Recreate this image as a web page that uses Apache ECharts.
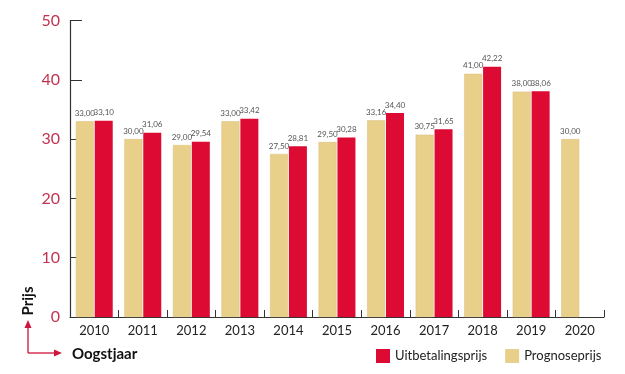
<!DOCTYPE html>
<html>
<head>
<meta charset="utf-8">
<script src="https://cdn.jsdelivr.net/npm/echarts@6/dist/echarts.min.js"></script>
<style>html,body{margin:0;padding:0;background:#fff}#c{width:625px;height:374px}</style>
</head>
<body>
<div id="c"></div>
<script>
const categories = ['2010','2011','2012','2013','2014','2015','2016','2017','2018','2019','2020'];
const prognoseprijs = [33.00, 30.00, 29.00, 33.00, 27.50, 29.50, 33.16, 30.75, 41.00, 38.00, 30.00];
const uitbetalingsprijs = [33.10, 31.06, 29.54, 33.42, 28.81, 30.28, 34.40, 31.65, 42.22, 38.06, null];
const yTicks = { min: 0, max: 50, interval: 10 };

const FONT = 'Lato, "Open Sans", sans-serif';
const fmt = p => p.value == null ? '' : p.value.toFixed(2).replace('.', ',');
const chart = echarts.init(document.getElementById('c'), null, { renderer: 'canvas' });
chart.setOption({
  animation: false,
  grid: { left: 70, right: 21, top: 20.5, bottom: 57, containLabel: false },
  legend: {
    data: ['Uitbetalingsprijs', 'Prognoseprijs'],
    left: 376, top: 349, width: 249, padding: 0, itemWidth: 14, itemHeight: 14, itemGap: 18,
    icon: 'rect',
    itemStyle: { borderWidth: 0 },
    textStyle: { fontFamily: FONT, fontSize: 13, color: '#222', padding: [0, 0, 0, 0] }
  },
  xAxis: {
    type: 'category', data: categories, boundaryGap: true,
    axisLine: { lineStyle: { color: '#333', width: 1.2 } },
    axisTick: { show: true, inside: true, length: 7, lineStyle: { color: '#333' } },
    axisLabel: { fontFamily: FONT, fontSize: 13, color: '#222', margin: 7 }
  },
  yAxis: {
    type: 'value', min: yTicks.min, max: yTicks.max, interval: yTicks.interval,
    splitLine: { show: false },
    axisLine: { show: true, lineStyle: { color: '#333', width: 1.2 } },
    axisTick: { show: true, inside: true, length: 12, lineStyle: { color: '#333' } },
    axisLabel: { fontFamily: FONT, fontSize: 16, color: '#c23350', margin: 10 }
  },
  series: [
    {
      name: 'Prognoseprijs', type: 'bar', data: prognoseprijs, barWidth: 18, barGap: '5%',
      itemStyle: { color: '#e9d08a', borderColor: '#d9bf7a', borderWidth: 0.5 },
      label: { show: true, position: 'top', distance: 4, fontFamily: FONT, fontSize: 8, color: '#555', formatter: fmt }
    },
    {
      name: 'Uitbetalingsprijs', type: 'bar', data: uitbetalingsprijs, barWidth: 18,
      itemStyle: { color: '#dd0a33' },
      label: { show: true, position: 'top', distance: 4, fontFamily: FONT, fontSize: 8, color: '#555', formatter: fmt }
    }
  ],
  graphic: [
    { type: 'text', x: 28, y: 301, rotation: Math.PI / 2, style: { text: 'Prijs', font: 'bold 15px ' + FONT, fill: '#111', align: 'center', verticalAlign: 'middle' } },
    { type: 'line', shape: { x1: 28, y1: 353, x2: 28, y2: 326 }, style: { stroke: '#d0143c', lineWidth: 1.3 } },
    { type: 'polygon', shape: { points: [[28, 320], [24.5, 328], [31.5, 328]] }, style: { fill: '#d0143c' } },
    { type: 'line', shape: { x1: 28, y1: 353, x2: 56, y2: 353 }, style: { stroke: '#d0143c', lineWidth: 1.3 } },
    { type: 'polygon', shape: { points: [[62, 353], [54, 349.5], [54, 356.5]] }, style: { fill: '#d0143c' } },
    { type: 'text', x: 72, y: 354, style: { text: 'Oogstjaar', font: 'bold 15px ' + FONT, fill: '#111', verticalAlign: 'middle' } }
  ]
});
</script>
</body>
</html>
